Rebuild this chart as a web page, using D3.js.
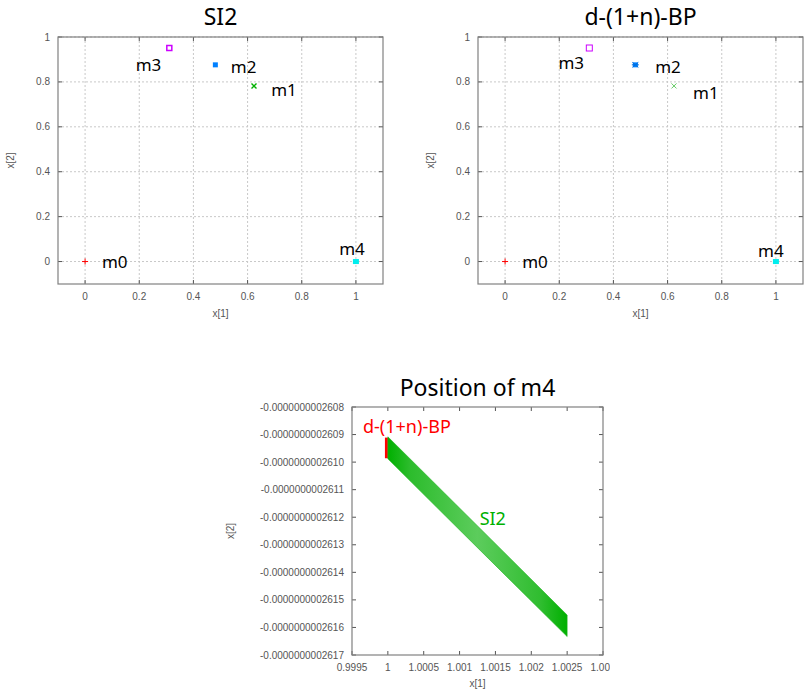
<!DOCTYPE html>
<html>
<head>
<meta charset="utf-8">
<script src="https://cdn.jsdelivr.net/npm/d3@7"></script>
<style>
  body { margin: 0; background: #fff; }
  svg text { font-family: "Noto Sans", sans-serif; }
  .tick-label { font-family: "Liberation Sans", Arial, sans-serif; font-size: 10px; fill: #555; }
</style>
</head>
<body>
<svg id="chart" width="810" height="693"></svg>
<script>
// ---- data ----
const bodies = ['m0', 'm1', 'm2', 'm3', 'm4'];
const bodyX = [0, 0.6237, 0.481, 0.311, 1.0];
const bodyY = [0, 0.782, 0.876, 0.951, 0.0];

// label anchor points (data coords, text baseline)
const si2LabelX = [0.062, 0.687, 0.538, 0.187, 0.938];
const si2LabelY = [-0.027, 0.738, 0.84, 0.85, 0.031];
const bpLabelX = [0.063, 0.694, 0.554, 0.197, 0.934];
const bpLabelY = [-0.027, 0.724, 0.84, 0.858, 0.022];

const topXTicks = [0, 0.2, 0.4, 0.6, 0.8, 1];
const topYTicks = [0, 0.2, 0.4, 0.6, 0.8, 1];

// zoomed m4 position
const zoomXTicks = [0.9995, 1, 1.0005, 1.001, 1.0015, 1.002, 1.0025, 1.003];
const zoomXLabels = ['0.9995', '1', '1.0005', '1.001', '1.0015', '1.002', '1.0025', '1.003'];
const zoomYTicks = [-2.608e-10, -2.609e-10, -2.610e-10, -2.611e-10, -2.612e-10,
                    -2.613e-10, -2.614e-10, -2.615e-10, -2.616e-10, -2.617e-10];
const zoomYLabels = ['-0.0000000002608', '-0.0000000002609', '-0.0000000002610', '-0.0000000002611',
                     '-0.0000000002612', '-0.0000000002613', '-0.0000000002614', '-0.0000000002615',
                     '-0.0000000002616', '-0.0000000002617'];
const si2BandX = [1, 1.0025, 1.0025, 1];
const si2BandY = [-2.60908e-10, -2.61555e-10, -2.61633e-10, -2.60988e-10];
const bpSegX = [0.99998, 0.99998];
const bpSegY = [-2.60911e-10, -2.60986e-10];

const svg = d3.select('#chart');
const frameColor = '#808080';

function frame(g, w, h) {
  g.append('rect').attr('width', w).attr('height', h)
    .attr('fill', 'none').attr('stroke', frameColor).attr('stroke-width', 1.2);
}

function axes(g, x, y, w, h, xt, xl, yt, yl, grid) {
  if (grid) {
    xt.forEach(v => g.append('line').attr('x1', x(v)).attr('x2', x(v)).attr('y1', 0).attr('y2', h)
      .attr('stroke', '#c8c8c8').attr('stroke-dasharray', '2,2'));
    yt.forEach(v => g.append('line').attr('y1', y(v)).attr('y2', y(v)).attr('x1', 0).attr('x2', w)
      .attr('stroke', '#c8c8c8').attr('stroke-dasharray', '2,2'));
  }
  xt.forEach((v, i) => {
    g.append('line').attr('x1', x(v)).attr('x2', x(v)).attr('y1', h).attr('y2', h - 4).attr('stroke', '#555');
    g.append('line').attr('x1', x(v)).attr('x2', x(v)).attr('y1', 0).attr('y2', 4).attr('stroke', '#555');
    g.append('text').attr('class', 'tick-label').attr('x', x(v)).attr('y', h + 16)
      .attr('text-anchor', 'middle').text(xl[i]);
  });
  yt.forEach((v, i) => {
    g.append('line').attr('y1', y(v)).attr('y2', y(v)).attr('x1', 0).attr('x2', 4).attr('stroke', '#555');
    g.append('line').attr('y1', y(v)).attr('y2', y(v)).attr('x1', w).attr('x2', w - 4).attr('stroke', '#555');
    g.append('text').attr('class', 'tick-label').attr('x', -8).attr('y', y(v) + 3.5)
      .attr('text-anchor', 'end').text(yl[i]);
  });
}

function axisTitles(g, w, h, xOff, yOff, title, titleY) {
  g.append('text').attr('class', 'tick-label').attr('x', w / 2).attr('y', h + yOff)
    .attr('text-anchor', 'middle').text('x[1]');
  g.append('text').attr('class', 'tick-label')
    .attr('transform', `translate(${xOff},${h / 2}) rotate(-90)`)
    .attr('text-anchor', 'middle').text('x[2]');
  g.append('text').attr('x', w / 2).attr('y', titleY).attr('text-anchor', 'middle')
    .attr('font-size', 23).attr('fill', '#000').text(title);
}

function topPlot(left, title, labelX, labelY, variant) {
  const w = 325, h = 247;
  const g = svg.append('g').attr('transform', `translate(${left},37)`);
  const x = d3.scaleLinear().domain([-0.1, 1.1]).range([0, w]);
  const y = d3.scaleLinear().domain([-0.1, 1]).range([h, 0]);
  const fmt = v => v === 0 || v === 1 ? String(v) : d3.format('.1f')(v);
  axes(g, x, y, w, h, topXTicks, topXTicks.map(fmt), topYTicks, topYTicks.map(fmt), true);
  frame(g, w, h);
  axisTitles(g, w, h, -44, 33, title, -12);

  // m0: red plus
  const px = i => x(bodyX[i]), py = i => y(bodyY[i]);
  g.append('path').attr('d', `M${px(0) - 3},${py(0)}h6M${px(0)},${py(0) - 3}v6`)
    .attr('stroke', '#ff0000').attr('stroke-width', 1);
  // m1: green cross
  g.append('path').attr('d', `M${px(1) - 2.5},${py(1) - 2.5}l5,5M${px(1) - 2.5},${py(1) + 2.5}l5,-5`)
    .attr('stroke', variant === 'bp' ? '#66cc66' : '#00b000').attr('stroke-width', variant === 'bp' ? 1 : 1.4);
  // m2: blue filled square (with star strokes for BP)
  g.append('rect').attr('x', px(2) - 2.5).attr('y', py(2) - 2.5).attr('width', 5).attr('height', 5)
    .attr('fill', '#0080ff');
  if (variant === 'bp') {
    g.append('path').attr('d', `M${px(2) - 3.5},${py(2)}h7M${px(2) - 3},${py(2) - 2.5}l6,5M${px(2) - 3},${py(2) + 2.5}l6,-5`)
      .attr('stroke', '#0070e0').attr('stroke-width', 1);
  }
  // m3: magenta open square
  const s3 = variant === 'bp' ? 6 : 5;
  g.append('rect').attr('x', px(3) - s3 / 2).attr('y', py(3) - s3 / 2).attr('width', s3).attr('height', s3)
    .attr('fill', 'none').attr('stroke', '#cc00ff').attr('stroke-width', variant === 'bp' ? 1 : 1.5);
  // m4: cyan filled square
  g.append('rect').attr('x', px(4) - 3).attr('y', py(4) - 2.5).attr('width', 6).attr('height', 5)
    .attr('fill', '#00eeee');

  bodies.forEach((b, i) => {
    g.append('text').attr('x', x(labelX[i])).attr('y', y(labelY[i]))
      .attr('font-size', 17).attr('fill', '#000').text(b);
  });
}

topPlot(58, 'SI2', si2LabelX, si2LabelY, 'si2');
topPlot(478, 'd-(1+n)-BP', bpLabelX, bpLabelY, 'bp');

// ---- bottom: position of m4 ----
(function () {
  const w = 251, h = 248;
  const defs = svg.append('defs');
  // the bottom panel image is cropped at its right side in the original
  defs.append('clipPath').attr('id', 'panelClip')
    .append('rect').attr('x', -150).attr('y', -50).attr('width', 408).attr('height', 340);
  const g = svg.append('g').attr('transform', 'translate(352,407)').attr('clip-path', 'url(#panelClip)');
  const x = d3.scaleLinear().domain([0.9995, 1.003]).range([0, w]);
  const y = d3.scaleLinear().domain([-2.617e-10, -2.608e-10]).range([h, 0]);

  const grad = defs.append('linearGradient').attr('id', 'bandGrad')
    .attr('x1', '0%').attr('x2', '100%').attr('y1', '0%').attr('y2', '0%');
  [[0, '#00b000'], [0.12, '#2cbc2c'], [0.5, '#5ccc5c'], [0.85, '#30bd30'], [1, '#00b000']]
    .forEach(([o, c]) => grad.append('stop').attr('offset', o).attr('stop-color', c));

  axes(g, x, y, w, h, zoomXTicks, zoomXLabels, zoomYTicks, zoomYLabels, false);
  frame(g, w, h);
  axisTitles(g, w, h, -118, 32, 'Position of m4', -11);

  g.append('line').attr('x1', x(bpSegX[0])).attr('x2', x(bpSegX[1]))
    .attr('y1', y(bpSegY[0])).attr('y2', y(bpSegY[1]))
    .attr('stroke', '#ff0000').attr('stroke-width', 3);

  const band = d3.line().x(d => x(d[0])).y(d => y(d[1]));
  g.append('path').attr('d', band(si2BandX.map((v, i) => [v, si2BandY[i]])) + 'Z')
    .attr('fill', 'url(#bandGrad)').attr('stroke', '#1fb41f').attr('stroke-width', 0.6);

  g.append('text').attr('x', 11).attr('y', 26).attr('font-size', 18).attr('fill', '#ff0000').text('d-(1+n)-BP');
  g.append('text').attr('x', x(1.00128)).attr('y', y(-2.61227e-10)).attr('font-size', 18)
    .attr('fill', '#00b000').text('SI2');
})();
</script>
</body>
</html>
